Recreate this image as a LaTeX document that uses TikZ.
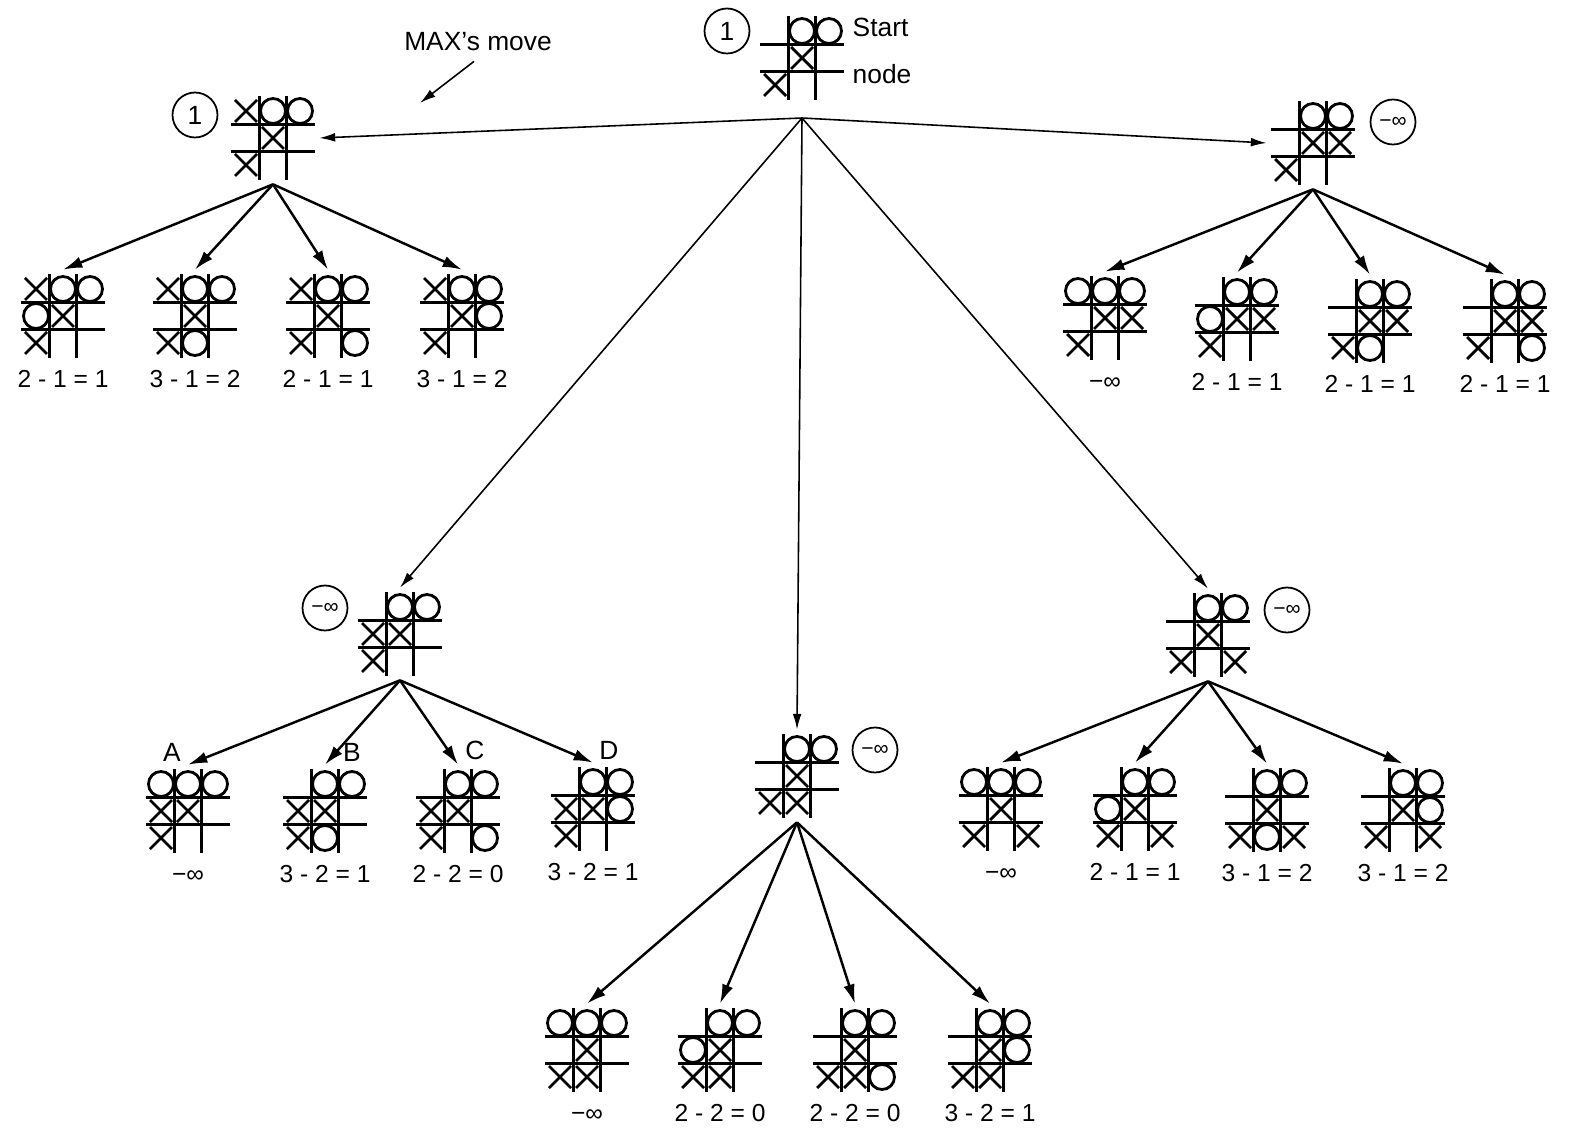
\documentclass[tikz,border=0pt]{standalone}
\usepackage{fontspec}
\setmainfont{Liberation Sans}
\usetikzlibrary{arrows.meta,positioning}

% one tic-tac-toe position: name, centre, nine cells (x, o or n), row by row
\newcommand{\tttboard}[3]{%
  \node[board] (#1) at (#2) {};
  \begin{scope}[shift={(#2)}]
    \draw[ttline] (-42,-13.5) -- (42,-13.5) (-42,13.5) -- (42,13.5)
                  (-13.5,-42) -- (-13.5,42) (13.5,-42) -- (13.5,42);
    \foreach \m [count=\i from 0] in {#3} {
      \pgfmathtruncatemacro\cc{mod(\i,3)-1}
      \pgfmathtruncatemacro\rr{div(\i,3)-1}
      \if x\m \draw[ttline] (\cc*27-11,\rr*27-11) -- (\cc*27+11,\rr*27+11)
                            (\cc*27-11,\rr*27+11) -- (\cc*27+11,\rr*27-11);\fi
      \if o\m \draw[ttline] (\cc*27,\rr*27) circle (0.25cm);\fi
    }
  \end{scope}
}

\begin{document}
\begin{tikzpicture}[x=0.02cm, y=-0.02cm,
  board/.style={minimum size=1.84cm, inner sep=0pt},
  ttline/.style={line width=1.6pt},
  score/.style={circle, draw, line width=1pt, minimum size=0.9cm, inner sep=0pt, font=\fontsize{15}{18}\selectfont},
  val/.style={inner sep=2pt, text height=10pt, text depth=1pt, font=\fontsize{14}{16}\selectfont},
  txt/.style={font=\fontsize{15}{18}\selectfont},
  edgetop/.style={line width=0.9pt, -{Latex[length=9pt,width=5pt]}},
  edgelow/.style={line width=1.4pt, -{Latex[length=11pt,width=6.5pt]}}]
	\useasboundingbox (0,0) rectangle (1576,1128);

	% root and MAX's moves
	\tttboard{S}{802,58}{n,o,o,n,x,n,x,n,n}
	\tttboard{L}{273,138}{x,o,o,n,x,n,x,n,n}
	\tttboard{R}{1313,143}{n,o,o,n,x,x,x,n,n}
	\tttboard{B}{400,634}{n,o,o,x,x,n,x,n,n}
	\tttboard{C}{797,776}{n,o,o,n,x,n,x,x,n}
	\tttboard{D}{1208,635}{n,o,o,n,x,n,x,n,x}
	\coordinate (Sroot) at (802,118);

	\node[score] (sS) at (727,31) {1};
	\node[score] (sL) at (195,115) {1};
	\node[score, font=\fontsize{12}{14}\selectfont] (sR) at (1393,122) {−∞};
	\node[score, font=\fontsize{12}{14}\selectfont] (sB) at (325,608) {−∞};
	\node[score, font=\fontsize{12}{14}\selectfont] (sC) at (875,750) {−∞};
	\node[score, font=\fontsize{12}{14}\selectfont] (sD) at (1287,610) {−∞};

	\node[txt, align=left, font=\fontsize{15}{27}\selectfont] (start) at (882,51) {Start\\node};
	\node[txt] (max) at (478,42) {MAX's move};
	\coordinate (maxtip) at (420,103);
	\draw[edgetop] (max.south) ++(-4,4) -- (maxtip);

	\draw[edgetop] (Sroot) -- (L.east);
	\draw[edgetop] (Sroot) -- (R.west);
	\draw[edgetop] (Sroot) -- (B.north);
	\draw[edgetop] (Sroot) -- (C.north);
	\draw[edgetop] (Sroot) -- (D.north);

	% MIN's replies under L
	\tttboard{L1}{63,316}{x,o,o,o,x,n,x,n,n}
	\tttboard{L2}{195,316}{x,o,o,n,x,n,x,o,n}
	\tttboard{L3}{328,316}{x,o,o,n,x,n,x,n,o}
	\tttboard{L4}{462,316}{x,o,o,n,x,o,x,n,n}
	\node[val, below=2pt of L1] {2 - 1 = 1};
	\node[val, below=2pt of L2] {3 - 1 = 2};
	\node[val, below=2pt of L3] {2 - 1 = 1};
	\node[val, below=2pt of L4] {3 - 1 = 2};

	% MIN's replies under R
	\tttboard{R1}{1105,318}{o,o,o,n,x,x,x,n,n}
	\tttboard{R2}{1237,319}{n,o,o,o,x,x,x,n,n}
	\tttboard{R3}{1370,321}{n,o,o,n,x,x,x,o,n}
	\tttboard{R4}{1505,321}{n,o,o,n,x,x,x,n,o}
	\node[val, below=2pt of R1] {−∞};
	\node[val, below=2pt of R2] {2 - 1 = 1};
	\node[val, below=2pt of R3] {2 - 1 = 1};
	\node[val, below=2pt of R4] {2 - 1 = 1};

	% MIN's replies under B
	\tttboard{B1}{188,811}{o,o,o,x,x,n,x,n,n}
	\tttboard{B2}{325,811}{n,o,o,x,x,n,x,o,n}
	\tttboard{B3}{458,811}{n,o,o,x,x,n,x,n,o}
	\tttboard{B4}{593,809}{n,o,o,x,x,o,x,n,n}
	\node[val, below=2pt of B1] {−∞};
	\node[val, below=2pt of B2] {3 - 2 = 1};
	\node[val, below=2pt of B3] {2 - 2 = 0};
	\node[val, below=2pt of B4] {3 - 2 = 1};
	\node[txt] (lA) at (172,752) {A};
	\node[txt] (lB) at (352,752) {B};
	\node[txt] (lC) at (475,750) {C};
	\node[txt] (lD) at (609,750) {D};

	% MIN's replies under C
	\tttboard{C1}{587,1050}{o,o,o,n,x,n,x,x,n}
	\tttboard{C2}{720,1050}{n,o,o,o,x,n,x,x,n}
	\tttboard{C3}{855,1050}{n,o,o,n,x,n,x,x,o}
	\tttboard{C4}{990,1050}{n,o,o,n,x,o,x,x,n}
	\node[val, below=2pt of C1] {−∞};
	\node[val, below=2pt of C2] {2 - 2 = 0};
	\node[val, below=2pt of C3] {2 - 2 = 0};
	\node[val, below=2pt of C4] {3 - 2 = 1};

	% MIN's replies under D
	\tttboard{D1}{1001,809}{o,o,o,n,x,n,x,n,x}
	\tttboard{D2}{1135,809}{n,o,o,o,x,n,x,n,x}
	\tttboard{D3}{1267,810}{n,o,o,n,x,n,x,o,x}
	\tttboard{D4}{1403,810}{n,o,o,n,x,o,x,n,x}
	\node[val, below=2pt of D1] {−∞};
	\node[val, below=2pt of D2] {2 - 1 = 1};
	\node[val, below=2pt of D3] {3 - 1 = 2};
	\node[val, below=2pt of D4] {3 - 1 = 2};

	\foreach \p in {L,R,B,C,D}
		\foreach \k in {1,...,4}
			\draw[edgelow] (\p.south) -- (\p\k.north);
\end{tikzpicture}
\end{document}
